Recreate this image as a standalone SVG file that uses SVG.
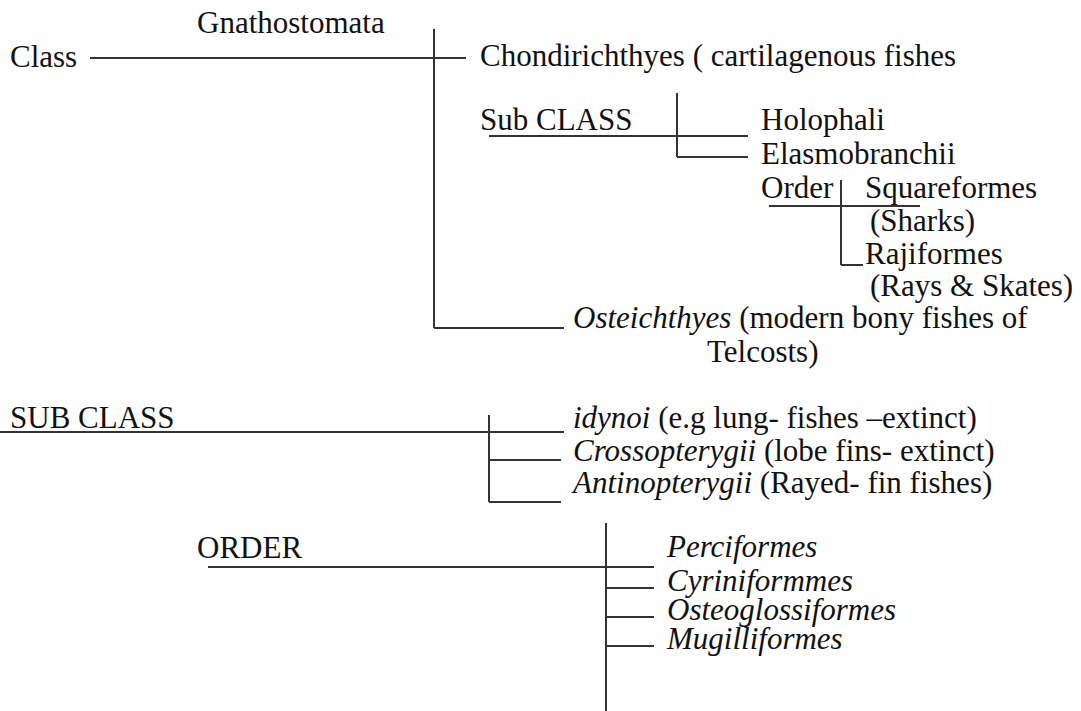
<svg xmlns="http://www.w3.org/2000/svg" width="1081" height="711" viewBox="0 0 1081 711">
<style>
text{font-family:"Liberation Serif","Times New Roman",serif;font-size:31px;fill:#111}
.i{font-style:italic}
line{stroke:#333;stroke-width:2;fill:none}
</style>
<rect width="1081" height="711" fill="#fff"/>
<g id="connectors">
<line x1="90" y1="58" x2="466" y2="58"/>
<line x1="434" y1="29" x2="434" y2="328"/>
<line x1="434" y1="328" x2="564" y2="328"/>
<line x1="489" y1="136" x2="748" y2="136"/>
<line x1="677" y1="93" x2="677" y2="157"/>
<line x1="677" y1="157" x2="748" y2="157"/>
<line x1="769" y1="206" x2="920" y2="206"/>
<line x1="841" y1="180" x2="841" y2="265"/>
<line x1="841" y1="265" x2="863" y2="265"/>
<line x1="0" y1="432" x2="564" y2="432"/>
<line x1="489" y1="415" x2="489" y2="502"/>
<line x1="489" y1="460" x2="561" y2="460"/>
<line x1="489" y1="502" x2="561" y2="502"/>
<line x1="208" y1="567" x2="654" y2="567"/>
<line x1="606" y1="523" x2="606" y2="711"/>
<line x1="606" y1="588" x2="654" y2="588"/>
<line x1="606" y1="617" x2="654" y2="617"/>
<line x1="606" y1="646" x2="654" y2="646"/>
</g>
<g id="gnathostomata"><text x="197" y="33">Gnathostomata</text></g>
<g id="class"><text x="10" y="67">Class</text></g>
<g id="chondrichthyes"><text x="480" y="66">Chondirichthyes ( cartilagenous fishes</text></g>
<g id="subclass1"><text x="480" y="130">Sub CLASS</text></g>
<g id="holophali"><text x="761" y="130">Holophali</text></g>
<g id="elasmobranchii"><text x="761" y="164">Elasmobranchii</text></g>
<g id="order1"><text x="761" y="198">Order</text></g>
<g id="squareformes"><text x="865" y="198">Squareformes</text><text x="870" y="231">(Sharks)</text></g>
<g id="rajiformes"><text x="865" y="264">Rajiformes</text><text x="870" y="296">(Rays &amp; Skates)</text></g>
<g id="osteichthyes"><text x="573" y="328"><tspan class="i">Osteichthyes</tspan> (modern bony fishes of</text><text x="707" y="362">Telcosts)</text></g>
<g id="subclass2"><text x="10" y="428">SUB CLASS</text></g>
<g id="idynoi"><text x="573" y="428"><tspan class="i">idynoi</tspan> (e.g lung- fishes –extinct)</text></g>
<g id="crossopterygii"><text x="573" y="461"><tspan class="i">Crossopterygii</tspan> (lobe fins- extinct)</text></g>
<g id="antinopterygii"><text x="573" y="493"><tspan class="i">Antinopterygii</tspan> (Rayed- fin fishes)</text></g>
<g id="order2"><text x="197" y="558">ORDER</text></g>
<g id="perciformes"><text class="i" x="667" y="557">Perciformes</text></g>
<g id="cyriniformmes"><text class="i" x="667" y="591">Cyriniformmes</text></g>
<g id="osteoglossiformes"><text class="i" x="667" y="620">Osteoglossiformes</text></g>
<g id="mugilliformes"><text class="i" x="667" y="649">Mugilliformes</text></g>
</svg>
